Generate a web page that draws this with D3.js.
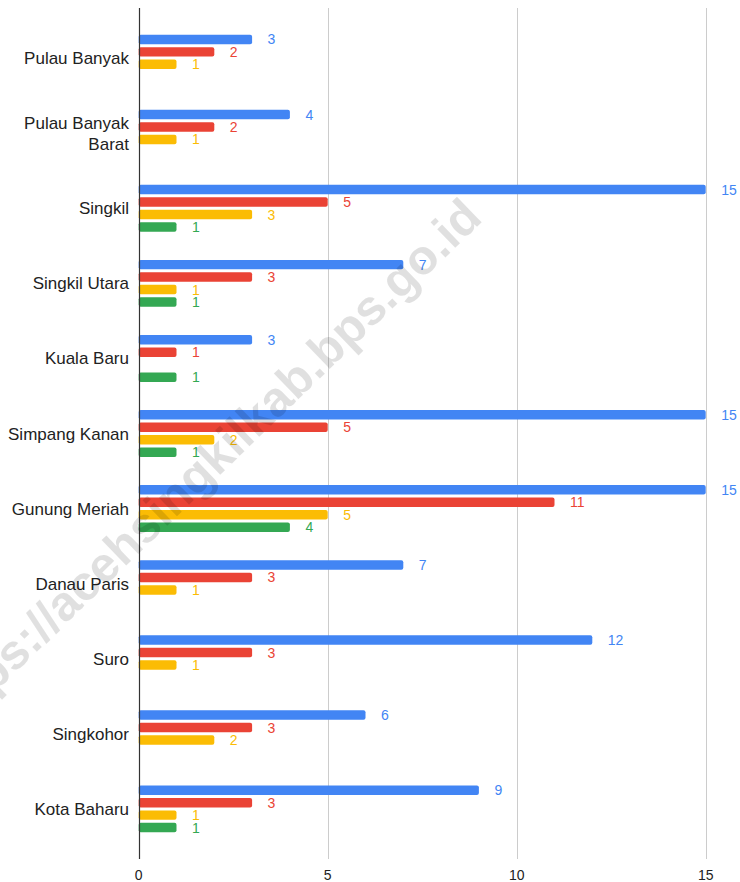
<!DOCTYPE html>
<html>
<head>
<meta charset="utf-8">
<script src="https://cdn.jsdelivr.net/npm/d3@7"></script>
<style>
  html, body { margin: 0; padding: 0; background: #fff; }
  svg { display: block; font-family: Arial, "Liberation Sans", sans-serif; }
</style>
</head>
<body>
<svg id="chart" width="740" height="882"></svg>
<script>
const categories = ["Pulau Banyak", "Pulau Banyak Barat", "Singkil", "Singkil Utara", "Kuala Baru",
  "Simpang Kanan", "Gunung Meriah", "Danau Paris", "Suro", "Singkohor", "Kota Baharu"];
const categoryLines = [["Pulau Banyak"], ["Pulau Banyak", "Barat"], ["Singkil"], ["Singkil Utara"], ["Kuala Baru"],
  ["Simpang Kanan"], ["Gunung Meriah"], ["Danau Paris"], ["Suro"], ["Singkohor"], ["Kota Baharu"]];
const seriesNames = ["s1", "s2", "s3", "s4"];
const seriesColors = ["#4285f4", "#ea4335", "#fbbc04", "#34a853"];
const blueValues   = [3, 4, 15, 7, 3, 15, 15, 7, 12, 6, 9];
const redValues    = [2, 2, 5, 3, 1, 5, 11, 3, 3, 3, 3];
const yellowValues = [1, 1, 3, 1, null, 2, 5, 1, 1, 2, 1];
const greenValues  = [null, null, 1, 1, 1, 1, 4, null, null, null, 1];
const seriesValues = [blueValues, redValues, yellowValues, greenValues];
const xTicks = [0, 5, 10, 15];
const watermark = "https://acehsingkilkab.bps.go.id";

const svg = d3.select("#chart");
const x = d3.scaleLinear().domain([0, 15]).range([138.7, 705.7]);
const y = d3.scaleBand().domain(categories).range([8, 859]).padding(0.335);
const yInner = d3.scaleBand().domain(seriesNames).range([0, y.bandwidth()]).paddingInner(0.24).paddingOuter(0.12);

// gridlines
svg.append("g").selectAll("line").data(xTicks.filter(d => d !== 0)).join("line")
  .attr("x1", d => Math.round(x(d)) + 0.5).attr("x2", d => Math.round(x(d)) + 0.5)
  .attr("y1", 8).attr("y2", 859)
  .attr("stroke", "#cccccc").attr("stroke-width", 1);

// tick labels
svg.append("g").selectAll("text").data(xTicks).join("text")
  .attr("x", d => x(d)).attr("y", 880)
  .attr("text-anchor", "middle").attr("font-size", 14).attr("fill", "#222")
  .text(d => d);

// bars
const groups = svg.append("g").selectAll("g").data(categories).join("g")
  .attr("transform", d => `translate(0,${y(d)})`);

groups.each(function(cat, ci) {
  const g = d3.select(this);
  seriesValues.forEach((vals, si) => {
    const v = vals[ci];
    if (v == null) return;
    const yy = yInner(seriesNames[si]);
    g.append("rect")
      .attr("x", x(0)).attr("y", yy)
      .attr("width", x(v) - x(0)).attr("height", yInner.bandwidth())
      .attr("rx", 2).attr("ry", 2)
      .attr("fill", seriesColors[si]);
    g.append("text")
      .attr("x", x(v) + 15.5).attr("y", yy + yInner.bandwidth() / 2)
      .attr("dy", "0.36em")
      .attr("font-size", 14).attr("fill", seriesColors[si])
      .text(v);
  });
});

// axis baseline
svg.append("line")
  .attr("x1", Math.round(x(0)) + 0.5).attr("x2", Math.round(x(0)) + 0.5)
  .attr("y1", 8).attr("y2", 859)
  .attr("stroke", "#333333").attr("stroke-width", 1.2);

// category labels
svg.append("g").selectAll("text").data(categories).join("text")
  .attr("x", 129).attr("text-anchor", "end")
  .attr("font-size", 17).attr("fill", "#222")
  .each(function(d, i) {
    const lines = categoryLines[i];
    const cy = y(d) + y.bandwidth() / 2;
    const lh = 20.7;
    const t = d3.select(this);
    lines.forEach((ln, li) => {
      t.append("tspan").attr("x", 129)
        .attr("y", cy + 6 + (li - (lines.length - 1) / 2) * lh)
        .text(ln);
    });
  });

// watermark
svg.append("text")
  .attr("transform", "translate(484,220) rotate(-44)")
  .attr("text-anchor", "end")
  .attr("font-size", 49).attr("font-weight", "bold")
  .attr("fill", "#000").attr("fill-opacity", 0.12)
  .text(watermark);
</script>
</body>
</html>
